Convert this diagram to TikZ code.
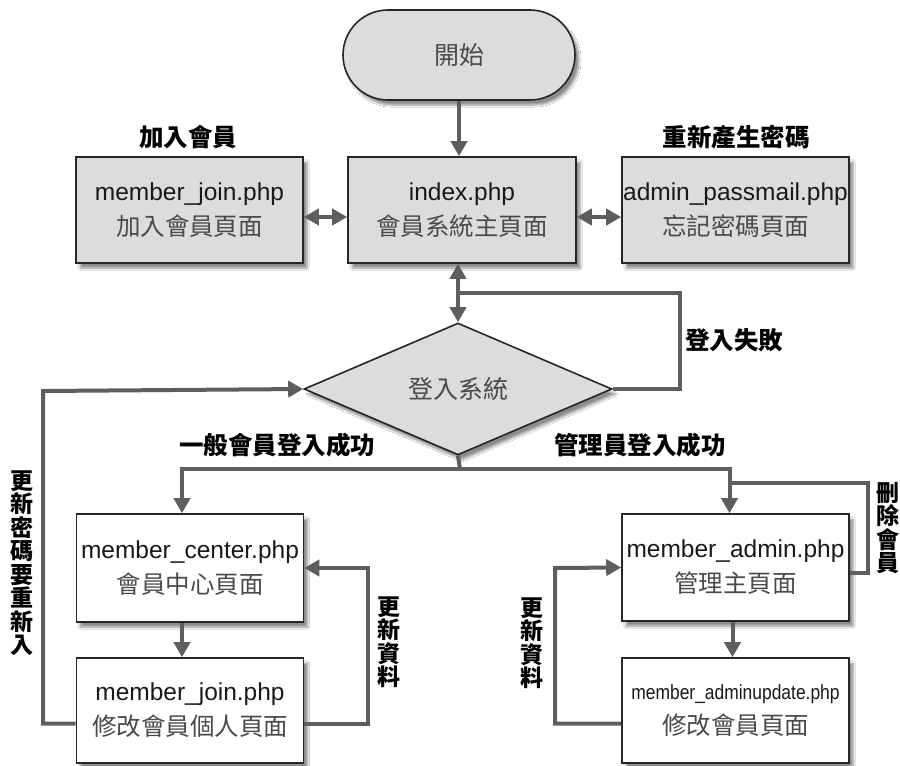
\documentclass[tikz,border=0pt]{standalone}
\usepackage{fontspec}
\setmainfont{Liberation Sans}
\newfontfamily\cjk{Noto Sans CJK TC}
\usetikzlibrary{arrows.meta,shapes.geometric,shadows.blur}
\definecolor{boxgray}{HTML}{DCDCDC}
\definecolor{linegray}{HTML}{5E5E5E}
\definecolor{txtgray}{HTML}{4A4A4A}
\begin{document}
\begin{tikzpicture}[x=1pt,y=-1pt,
  shad/.style={blur shadow={shadow xshift=4pt, shadow yshift=-5pt, shadow blur steps=8, shadow opacity=45}},
  box/.style={shad, draw=black!85, line width=1.6pt, minimum width=227pt, minimum height=106pt, inner sep=0pt, align=center, text=black!90, font=\fontsize{24.5}{35}\selectfont},
  graybox/.style={box, fill=boxgray},
  whitebox/.style={box, fill=white},
  conn/.style={draw=linegray, line width=4pt},
  arr/.style={conn, -{Triangle[length=15pt,width=16pt]}},
  dblarr/.style={conn, {Triangle[length=15pt,width=16pt]}-{Triangle[length=15pt,width=16pt]}},
  lbl/.style={font=\cjk\bfseries\fontsize{24.5}{26}\selectfont, inner sep=0pt},
  vlbl/.style={align=center, inner sep=0pt, font=\cjk\bfseries\fontsize{23}{23.5}\selectfont},
  zh/.style={}
]
\fill[white] (0,0) rectangle (900,766);
\useasboundingbox (0,0) rectangle (900,766);

% start
\node[shad, draw=black!85, line width=1.6pt, fill=boxgray, rounded corners=45pt, minimum width=232pt, minimum height=90pt, inner sep=0pt, text=txtgray, font=\cjk\fontsize{25}{30}\selectfont] (st) at (459,55) {開始};

% top row
\node[graybox] (mjt) at (189.5,210) {member\_join.php\\{\cjk\color{txtgray}加入會員頁面}};
\node[graybox, minimum width=228pt] (idx) at (462,210) {index.php\\{\cjk\color{txtgray}會員系統主頁面}};
\node[graybox] (pm) at (735.5,210) {admin\_passmail.php\\{\cjk\color{txtgray}忘記密碼頁面}};

\node[lbl] (l1) at (188,137) {加入會員};
\node[lbl] (l2) at (736,137) {重新產生密碼};

% diamond
\node[shad, diamond, draw=black!85, line width=1.6pt, fill=boxgray, minimum width=308pt, minimum height=132pt, aspect=2.33, inner sep=0pt, text=txtgray, font=\cjk\fontsize{25}{30}\selectfont] (dia) at (458,389) {登入系統};

\node[lbl] (l3) at (734,340) {登入失敗};
\node[lbl] (l4) at (277,445) {一般會員登入成功};
\node[lbl] (l5) at (640,445) {管理員登入成功};

% bottom boxes
\node[whitebox, minimum height=108pt] (mc) at (190,568) {member\_center.php\\{\cjk\color{txtgray}會員中心頁面}};
\node[whitebox, minimum height=105pt] (mj) at (190,710.5) {member\_join.php\\{\cjk\color{txtgray}修改會員個人頁面}};
\node[whitebox, minimum height=107pt] (ma) at (735.5,567.5) {member\_admin.php\\{\cjk\color{txtgray}管理主頁面}};
\node[whitebox, minimum height=105pt] (mu) at (735.5,710.5) {\scalebox{0.85}[1]{\fontsize{20.5}{24}\selectfont member\_adminupdate.php}\\{\cjk\color{txtgray}修改會員頁面}};

\node[vlbl] (v1) at (22,563) {更\\新\\密\\碼\\要\\重\\新\\入};
\node[vlbl] (v2) at (389,642) {更\\新\\資\\料};
\node[vlbl] (v3) at (532,643) {更\\新\\資\\料};
\node[vlbl] (v4) at (888,528) {刪\\除\\會\\員};

% connectors
\draw[arr] (st.south) -- (st.south |- idx.north);
\draw[dblarr] ([yshift=-7pt]mjt.east) -- ([yshift=-7pt]idx.west);
\draw[dblarr] ([yshift=-7pt]idx.east) -- ([yshift=-7pt]pm.west);
\draw[dblarr] (dia.north |- idx.south) -- (dia.north);

\coordinate (f1) at (680,293);
\draw[conn] (dia.east) -| (f1) -- (f1 -| dia.north);

\coordinate (sp) at (460,469);
\coordinate (mct) at ([xshift=-8pt]mc.north);
\coordinate (mat) at ([xshift=-6pt]ma.north);
\draw[conn] (dia.south) -- (sp);
\draw[arr] (sp) -| (mct);
\draw[arr] (sp) -| (mat);

\coordinate (d1) at (868,483);
\draw[conn] ([yshift=-5.5pt]ma.east) -| (d1) -- (d1 -| mat);

\draw[arr] ([xshift=-8pt]mc.south) -- ([xshift=-8pt]mj.north);
\draw[arr] ([xshift=-3pt]ma.south) -- ([xshift=-3pt]mu.north);

\coordinate (lft) at (43,391);
\draw[arr] ([yshift=-13pt]mj.west) -| (lft) -- (dia.west);

\coordinate (rgt) at (368,568);
\draw[arr] ([yshift=-13pt]mj.east) -| (rgt) -- (mc.east);

\coordinate (alf) at (555,568);
\draw[arr] ([yshift=-13pt]mu.west) -| (alf) -- (ma.west);
\end{tikzpicture}
\end{document}
